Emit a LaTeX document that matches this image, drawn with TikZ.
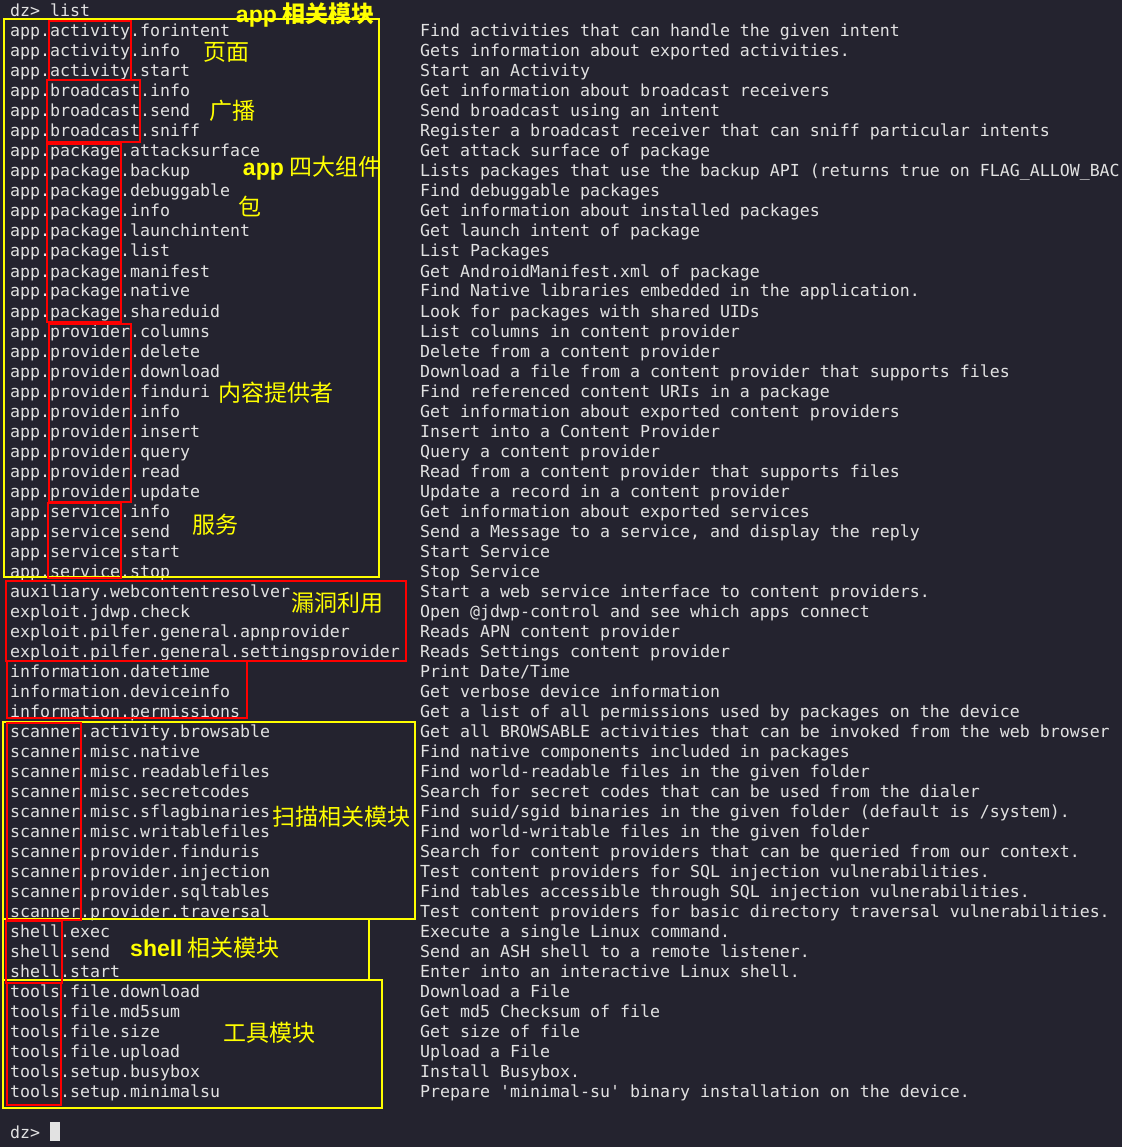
\documentclass[tikz,border=0pt]{standalone}
\usepackage{fontspec}
\setmonofont{DejaVu Sans Mono}
\newfontfamily\cjkfont{Noto Sans CJK SC}
\newfontfamily\labfont{Liberation Sans}
\definecolor{termbg}{HTML}{24232F}
\definecolor{termfg}{HTML}{E2E2E2}
\definecolor{markyellow}{HTML}{FFFF00}
\definecolor{markred}{HTML}{FF0000}

\begin{document}
\begin{tikzpicture}[
    x=1pt, y=-1pt,
    cmd/.style={anchor=base west, inner sep=0pt, text=termfg, font=\ttfamily\fontsize{16.6}{20}\selectfont},
    desc/.style={cmd},
    group/.style={draw=markyellow, line width=2pt},
    part/.style={draw=markred, line width=2pt},
    note/.style={inner sep=0pt, text=markyellow, font=\cjkfont\fontsize{23}{23}\selectfont}
  ]

  % terminal window
  \fill[termbg] (0,0) rectangle (1122,1147);
  \clip (0,0) rectangle (1122,1147);

  \node[cmd] (prompt) at (10,17) {dz> list};

  % module list, one line every 20pt
  \foreach \cmdname/\cmddesc [count=\i] in {
      app.activity.forintent/{Find activities that can handle the given intent},
      app.activity.info/{Gets information about exported activities.},
      app.activity.start/{Start an Activity},
      app.broadcast.info/{Get information about broadcast receivers},
      app.broadcast.send/{Send broadcast using an intent},
      app.broadcast.sniff/{Register a broadcast receiver that can sniff particular intents},
      app.package.attacksurface/{Get attack surface of package},
      app.package.backup/{Lists packages that use the backup API (returns true on FLAG\_ALLOW\_BAC},
      app.package.debuggable/{Find debuggable packages},
      app.package.info/{Get information about installed packages},
      app.package.launchintent/{Get launch intent of package},
      app.package.list/{List Packages},
      app.package.manifest/{Get AndroidManifest.xml of package},
      app.package.native/{Find Native libraries embedded in the application.},
      app.package.shareduid/{Look for packages with shared UIDs},
      app.provider.columns/{List columns in content provider},
      app.provider.delete/{Delete from a content provider},
      app.provider.download/{Download a file from a content provider that supports files},
      app.provider.finduri/{Find referenced content URIs in a package},
      app.provider.info/{Get information about exported content providers},
      app.provider.insert/{Insert into a Content Provider},
      app.provider.query/{Query a content provider},
      app.provider.read/{Read from a content provider that supports files},
      app.provider.update/{Update a record in a content provider},
      app.service.info/{Get information about exported services},
      app.service.send/{Send a Message to a service, and display the reply},
      app.service.start/{Start Service},
      app.service.stop/{Stop Service},
      auxiliary.webcontentresolver/{Start a web service interface to content providers.},
      exploit.jdwp.check/{Open @jdwp-control and see which apps connect},
      exploit.pilfer.general.apnprovider/{Reads APN content provider},
      exploit.pilfer.general.settingsprovider/{Reads Settings content provider},
      information.datetime/{Print Date/Time},
      information.deviceinfo/{Get verbose device information},
      information.permissions/{Get a list of all permissions used by packages on the device},
      scanner.activity.browsable/{Get all BROWSABLE activities that can be invoked from the web browser},
      scanner.misc.native/{Find native components included in packages},
      scanner.misc.readablefiles/{Find world-readable files in the given folder},
      scanner.misc.secretcodes/{Search for secret codes that can be used from the dialer},
      scanner.misc.sflagbinaries/{Find suid/sgid binaries in the given folder (default is /system).},
      scanner.misc.writablefiles/{Find world-writable files in the given folder},
      scanner.provider.finduris/{Search for content providers that can be queried from our context.},
      scanner.provider.injection/{Test content providers for SQL injection vulnerabilities.},
      scanner.provider.sqltables/{Find tables accessible through SQL injection vulnerabilities.},
      scanner.provider.traversal/{Test content providers for basic directory traversal vulnerabilities.},
      shell.exec/{Execute a single Linux command.},
      shell.send/{Send an ASH shell to a remote listener.},
      shell.start/{Enter into an interactive Linux shell.},
      tools.file.download/{Download a File},
      tools.file.md5sum/{Get md5 Checksum of file},
      tools.file.size/{Get size of file},
      tools.file.upload/{Upload a File},
      tools.setup.busybox/{Install Busybox.},
      tools.setup.minimalsu/{Prepare 'minimal-su' binary installation on the device.}}{
    \node[cmd] (cmd\i) at (10,17+20*\i) {\cmdname};
    \node[desc] (desc\i) at (420,17+20*\i) {\cmddesc};
  }

  % new prompt with block cursor
  \node[cmd] (prompt2) at (10,1138) {dz>};
  \node[fill=termfg, inner sep=0pt, minimum width=10pt, minimum height=19pt, anchor=west] (cursor) at (50,1131.5) {};

  % yellow boxes round the module groups
  \draw[group] (4,19) rectangle (379,577);
  \draw[group] (3,722) rectangle (415,919);
  \draw[group] (3,919) rectangle (369,980);
  \draw[group] (3,980) rectangle (382,1108);

  % red boxes round the sub-modules
  \draw[part] (49,21) rectangle (131,80);
  \draw[part] (47,80) rectangle (140,142);
  \draw[part] (47,144) rectangle (121,322);
  \draw[part] (49,324) rectangle (131,502);
  \draw[part] (48,503) rectangle (121,578);
  \draw[part] (6,581) rectangle (406,661);
  \draw[part] (7,661) rectangle (247,718);
  \draw[part] (7,723) rectangle (81,920);
  \draw[part] (6,921) rectangle (62,983);
  \draw[part] (7,983) rectangle (61,1105);

  % notes
  \node[note] (appnote) at (305,15) {{\labfont\bfseries app} \bfseries 相关模块};
  \node[note] (activitynote) at (226,52) {页面};
  \node[note] (broadcastnote) at (232,111) {广播};
  \node[note] (componentnote) at (312,168) {{\labfont\bfseries app} 四大组件};
  \node[note] (packagenote) at (250,206) {包};
  \node[note] (providernote) at (276,393) {内容提供者};
  \node[note] (servicenote) at (215,525) {服务};
  \node[note] (exploitnote) at (337,603) {漏洞利用};
  \node[note] (scannernote) at (341,817) {扫描相关模块};
  \node[note] (shellnote) at (205,948) {{\labfont\bfseries shell} 相关模块};
  \node[note] (toolsnote) at (269,1033) {工具模块};

\end{tikzpicture}
\end{document}
